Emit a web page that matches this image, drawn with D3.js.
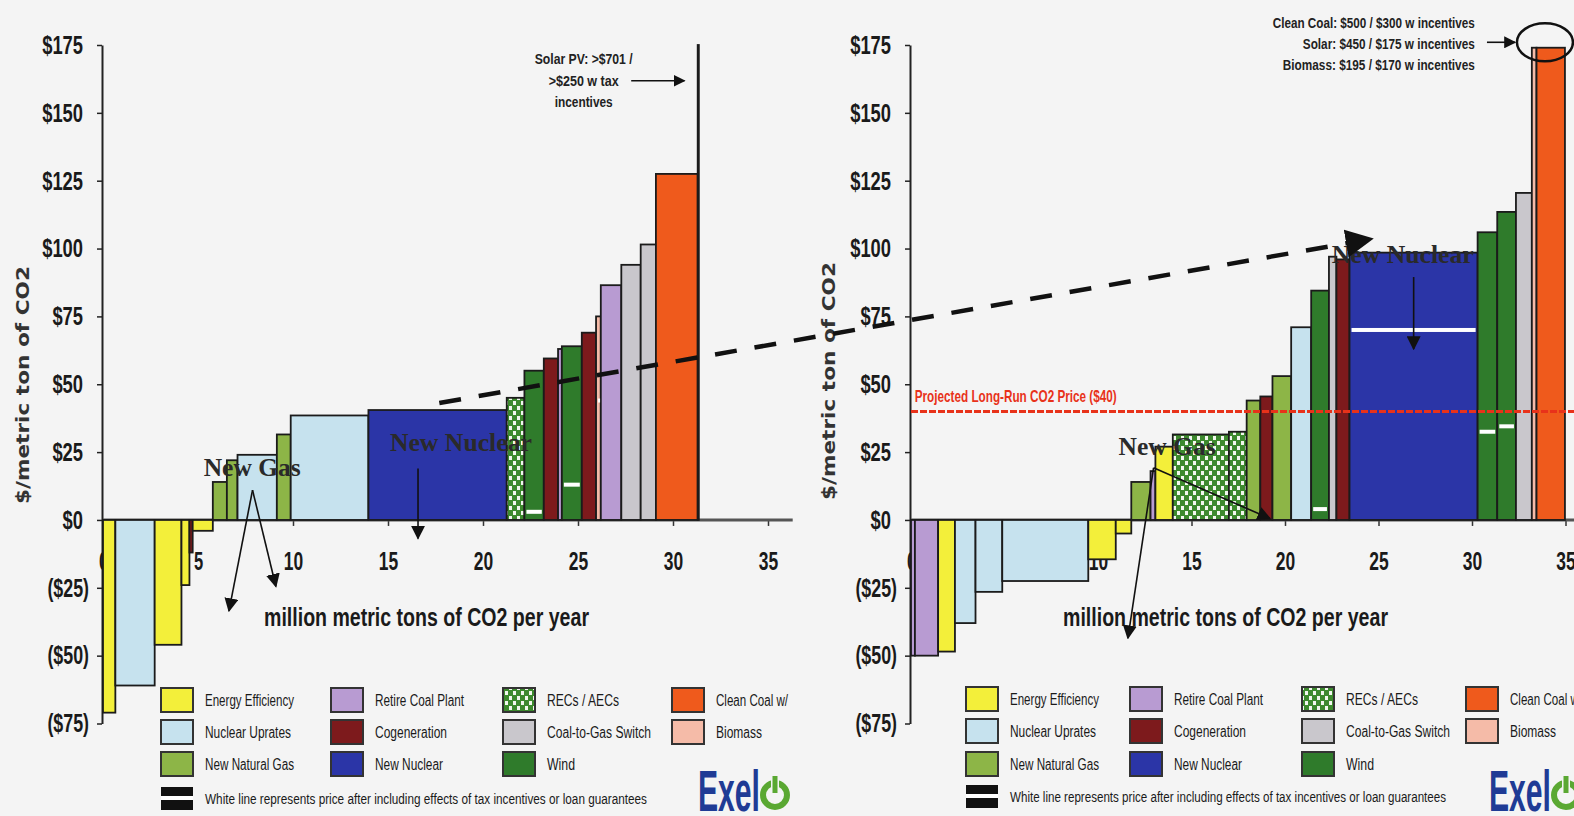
<!DOCTYPE html>
<html>
<head>
<meta charset="utf-8">
<script src="https://cdn.jsdelivr.net/npm/d3@7"></script>
<style>
  html, body { margin: 0; padding: 0; background: #f4f4f4; }
  svg { display: block; }
</style>
</head>
<body>
<svg id="chart" width="1574" height="816"></svg>
<script>
// Abatement cost curves: cost per metric ton of CO2 vs. cumulative reduction

// Technology legend
const techKeys   = ["EE", "NU", "NG", "RC", "CG", "NN", "REC", "CTG", "WI", "CC", "BIO"];
const techNames  = ["Energy Efficiency", "Nuclear Uprates", "New Natural Gas",
                    "Retire Coal Plant", "Cogeneration", "New Nuclear",
                    "RECs / AECs", "Coal-to-Gas Switch", "Wind",
                    "Clean Coal w/", "Biomass"];
const techColors = ["#f3ef3a", "#c6e2ee", "#8db547", "#b89bd2", "#7d1a1c", "#2b35a7",
                    "#3d8a2e", "#c9c7cc", "#2f7b2b", "#ef5a1c", "#f5bba8"];

// Axes
const yTicks      = [175, 150, 125, 100, 75, 50, 25, 0, -25, -50, -75];
const yTickLabels = ["$175", "$150", "$125", "$100", "$75", "$50", "$25", "$0", "($25)", "($50)", "($75)"];
const xTicks      = [0, 5, 10, 15, 20, 25, 30, 35];
const xTickLabels = ["0", "5", "10", "15", "20", "25", "30", "35"];

// Left panel: technology, width (million t CO2/yr), cost ($/t), cost after incentives
const leftTech      = ["EE", "NU", "EE", "EE", "CG", "EE", "NG", "NG", "NU", "NG", "NU", "NN",
                       "REC", "WI", "CG", "RC", "WI", "CG", "BIO", "RC", "CTG", "CTG", "CC", "PV"];
const leftWidth     = [0.65, 2.07, 1.41, 0.42, 0.17, 1.06, 0.74, 0.56, 2.07, 0.73, 4.09, 7.28,
                       0.93, 1.02, 0.75, 0.20, 1.05, 0.75, 0.25, 1.08, 1.02, 0.80, 2.20, 0.06];
const leftCost      = [-71, -61, -46, -24, -12, -4, 14, 22, 24, 31.5, 38.5, 40.5,
                       45, 55, 59.5, 63, 64, 69, 75, 86.5, 94, 101.5, 127.5, 175];
const leftIncentive = [null, null, null, null, null, null, null, null, null, null, null, null,
                       null, 3, null, null, 13, null, 44, null, null, null, null, null];

// Right panel
const rightTech      = ["RC", "RC", "EE", "NU", "NU", "NU", "EE", "EE", "NG", "RC", "EE", "REC", "REC",
                        "NG", "CG", "NG", "NU", "WI", "CTG", "CG", "NN", "WI", "WI", "CTG", "BIO", "CC"];
const rightWidth     = [0.21, 1.24, 0.90, 1.10, 1.43, 4.60, 1.47, 0.83, 1.03, 0.26, 0.93, 3.00, 0.95,
                        0.73, 0.65, 1.00, 1.07, 0.95, 0.40, 0.70, 6.85, 1.05, 1.00, 0.85, 0.25, 1.52];
const rightCost      = [-50, -50, -48.5, -38, -26.5, -22.5, -14.5, -5, 14, 18, 27, 31.5, 32.5,
                        44, 45.5, 53, 71, 84.5, 97, 96, 98.5, 106, 113.5, 120.5, 174, 174];
const rightIncentive = [null, null, null, null, null, null, null, null, null, null, null, null, null,
                        null, null, null, null, 4, null, null, 70, 32.5, 34.5, null, null, null];

// Reference price and annotations (data coordinates of each panel)
const projectedPrice = 40;
const leftCallouts  = [{ text: "New Gas", x: 5.3, y: 16.2 }, { text: "New Nuclear", x: 15.1, y: 25.4 }];
const rightCallouts = [{ text: "New Gas", x: 11.1, y: 24 }, { text: "New Nuclear", x: 22.5, y: 94.7 }];
const leftPointers  = [[7.87, 11, 6.63, -33.5], [7.87, 11, 9.1, -24.5], [16.58, 19, 16.58, -6.8]];
const rightPointers = [[12.97, 19.2, 11.6, -43.5], [12.97, 19.2, 19.2, 0.5], [26.88, 89.5, 26.88, 63]];
const linkFrom = [17.7, 43.1];   // left panel
const linkTo   = [24.6, 103.5];  // right panel
const leftNote  = ["Solar PV: >$701 /", ">$250 w tax", "incentives"];
const rightNote = ["Clean Coal: $500 / $300 w incentives",
                   "Solar: $450 / $175 w incentives",
                   "Biomass: $195 / $170 w incentives"];

const svg = d3.select("#chart");
const bg = "#f4f4f4";
svg.append("rect").attr("width", 1574).attr("height", 816).attr("fill", bg);

const defs = svg.append("defs");
const pat = defs.append("pattern").attr("id", "checker")
  .attr("patternUnits", "userSpaceOnUse").attr("width", 8).attr("height", 10);
pat.append("rect").attr("width", 8).attr("height", 10).attr("fill", "#3d8a2e");
pat.append("rect").attr("x", 1).attr("y", 1).attr("width", 3).attr("height", 4).attr("fill", "#f2f7ee");
pat.append("rect").attr("x", 5).attr("y", 6).attr("width", 3).attr("height", 4).attr("fill", "#f2f7ee");

function arrowMarker(id, size) {
  defs.append("marker").attr("id", id)
    .attr("viewBox", "0 0 10 10").attr("refX", 9).attr("refY", 5)
    .attr("markerUnits", "userSpaceOnUse")
    .attr("markerWidth", size).attr("markerHeight", size)
    .attr("orient", "auto")
    .append("path").attr("d", "M0,0 L10,5 L0,10 Z").attr("fill", "#111");
}
arrowMarker("tri", 14);
arrowMarker("open", 12);
arrowMarker("big", 28);

const colorOf = k => k === "REC" ? "url(#checker)" : (k === "PV" ? "none" : techColors[techKeys.indexOf(k)]);

const y = d3.scaleLinear().domain([-75, 175]).range([723.5, 45]);
const narrow = "'Liberation Sans Narrow','Arial Narrow','Liberation Sans',sans-serif";

// condensed width of a numeric tick label
const labelWidth = s => Array.from(s).reduce((w, c) => w + (c === "(" || c === ")" ? 5.5 : 10.2), 0);

function drawPanel(cfg) {
  const x = cfg.x;
  const g = svg.append("g");

  // y axis
  const ya = g.append("g")
    .attr("transform", `translate(${x(0) - 1},0)`)
    .call(d3.axisLeft(y).tickValues(yTicks).tickFormat((d, i) => yTickLabels[i]).tickSize(5).tickSizeOuter(0));
  ya.select(".domain").attr("stroke", "#222").attr("stroke-width", 2);
  ya.selectAll(".tick line").attr("stroke", "#222").attr("stroke-width", 1.5);
  ya.selectAll(".tick text")
    .attr("x", d => d < 0 ? -13 : -19)
    .attr("font-family", narrow).attr("font-weight", "bold").attr("font-size", 26)
    .attr("fill", "#1a1a1a")
    .attr("textLength", function () { return labelWidth(this.textContent); })
    .attr("lengthAdjust", "spacingAndGlyphs");

  // x axis
  const xa = g.append("g")
    .attr("transform", `translate(0,${y(0)})`)
    .call(d3.axisBottom(x).tickValues(xTicks).tickFormat((d, i) => xTickLabels[i]).tickSize(6).tickSizeOuter(0));
  xa.select(".domain").remove();
  xa.selectAll(".tick line").attr("stroke", "#333").attr("stroke-width", 1.5);
  xa.selectAll(".tick text")
    .attr("y", 32)
    .attr("font-family", narrow).attr("font-weight", "bold").attr("font-size", 26)
    .attr("fill", "#1a1a1a")
    .attr("textLength", function () { return labelWidth(this.textContent) - 1; })
    .attr("lengthAdjust", "spacingAndGlyphs");
  g.append("line")
    .attr("x1", x(0)).attr("x2", x(cfg.axisEnd))
    .attr("y1", y(0)).attr("y2", y(0))
    .attr("stroke", "#555").attr("stroke-width", 3);

  // axis titles
  g.append("text")
    .attr("transform", `translate(${cfg.yTitleX},${cfg.yTitleY}) rotate(-90)`)
    .attr("text-anchor", "middle")
    .attr("font-family", "'DejaVu Sans',Verdana,sans-serif").attr("font-weight", "bold")
    .attr("font-size", 17).attr("fill", "#333")
    .attr("textLength", 238).attr("lengthAdjust", "spacingAndGlyphs")
    .text("$/metric ton of CO2");
  g.append("text")
    .attr("x", cfg.xTitleX).attr("y", 626)
    .attr("font-family", narrow).attr("font-weight", "bold").attr("font-size", 25)
    .attr("fill", "#1a1a1a")
    .attr("textLength", 325).attr("lengthAdjust", "spacingAndGlyphs")
    .text("million metric tons of CO2 per year");

  // bars
  const starts = d3.cumsum([0].concat(cfg.width.slice(0, -1)));
  const bars = cfg.tech.map((t, i) => ({
    tech: t, x0: starts[i], x1: starts[i] + cfg.width[i],
    cost: cfg.cost[i], inc: cfg.incentive[i]
  }));
  g.append("g").selectAll("rect").data(bars).join("rect")
    .attr("x", d => x(d.x0))
    .attr("width", d => Math.max(1, x(d.x1) - x(d.x0)))
    .attr("y", d => Math.min(y(d.cost), y(0)))
    .attr("height", d => Math.abs(y(d.cost) - y(0)))
    .attr("fill", d => colorOf(d.tech))
    .attr("stroke", "#1b1b1b").attr("stroke-width", 1.8);

  // white incentive marks
  g.append("g").selectAll("rect").data(bars.filter(d => d.inc !== null)).join("rect")
    .attr("x", d => x(d.x0) + 2)
    .attr("width", d => Math.max(2, x(d.x1) - x(d.x0) - 4))
    .attr("y", d => y(d.inc) - 2)
    .attr("height", 4)
    .attr("fill", "#ffffff");

  return g;
}

const xL = d3.scaleLinear().domain([0, 35]).range([103, 768]);
const xR = d3.scaleLinear().domain([0, 35]).range([911, 1565.5]);

const gL = drawPanel({ x: xL, tech: leftTech, width: leftWidth, cost: leftCost, incentive: leftIncentive,
                       axisEnd: 36.3, yTitleX: 29, yTitleY: 385, xTitleX: 264 });
const gR = drawPanel({ x: xR, tech: rightTech, width: rightWidth, cost: rightCost, incentive: rightIncentive,
                       axisEnd: 35.6, yTitleX: 835, yTitleY: 381, xTitleX: 1063 });

// projected long-run CO2 price
gR.append("line")
  .attr("x1", xR(0)).attr("x2", 1574)
  .attr("y1", y(projectedPrice)).attr("y2", y(projectedPrice))
  .attr("stroke", "#e8321a").attr("stroke-width", 3).attr("stroke-dasharray", "7,2");
gR.append("text")
  .attr("x", xR(0.2)).attr("y", y(43.6))
  .attr("font-family", narrow).attr("font-weight", "bold").attr("font-size", 17)
  .attr("fill", "#e8321a")
  .attr("textLength", 202).attr("lengthAdjust", "spacingAndGlyphs")
  .text("Projected Long-Run CO2 Price ($40)");

// callouts
function callouts(g, x, labels, pointers) {
  labels.forEach(c => {
    g.append("text")
      .attr("x", x(c.x)).attr("y", y(c.y))
      .attr("font-family", "'Liberation Serif','Times New Roman',serif").attr("font-weight", "bold")
      .attr("font-size", 25).attr("fill", "#2a2a2a")
      .attr("textLength", c.text === "New Gas" ? 97 : 142).attr("lengthAdjust", "spacingAndGlyphs")
      .text(c.text);
  });
  pointers.forEach(p => {
    g.append("line")
      .attr("x1", x(p[0])).attr("y1", y(p[1]))
      .attr("x2", x(p[2])).attr("y2", y(p[3]))
      .attr("stroke", "#111").attr("stroke-width", 1.6)
      .attr("marker-end", "url(#tri)");
  });
}
callouts(gL, xL, leftCallouts, leftPointers);
callouts(gR, xR, rightCallouts, rightPointers);

// dashed link between the two New Nuclear positions
svg.append("line")
  .attr("x1", xL(linkFrom[0])).attr("y1", y(linkFrom[1]))
  .attr("x2", xR(linkTo[0])).attr("y2", y(linkTo[1]))
  .attr("stroke", "#111").attr("stroke-width", 4.5).attr("stroke-dasharray", "22,18")
  .attr("marker-end", "url(#big)");

// off-scale notes
leftNote.forEach((t, i) => {
  gL.append("text")
    .attr("x", xL(25.3)).attr("y", y(168 - i * 8))
    .attr("text-anchor", "middle")
    .attr("font-family", narrow).attr("font-weight", "bold").attr("font-size", 14)
    .attr("fill", "#222")
    .attr("textLength", [98, 70, 58][i]).attr("lengthAdjust", "spacingAndGlyphs")
    .text(t);
});
gL.append("line")
  .attr("x1", xL(27.8)).attr("x2", xL(30.6))
  .attr("y1", y(161.8)).attr("y2", y(161.8))
  .attr("stroke", "#111").attr("stroke-width", 1.6).attr("marker-end", "url(#open)");

rightNote.forEach((t, i) => {
  gR.append("text")
    .attr("x", xR(30.15)).attr("y", y(181.3 - i * 7.8))
    .attr("text-anchor", "end")
    .attr("font-family", narrow).attr("font-weight", "bold").attr("font-size", 15)
    .attr("fill", "#222")
    .attr("textLength", [202, 172, 192][i]).attr("lengthAdjust", "spacingAndGlyphs")
    .text(t);
});
gR.append("line")
  .attr("x1", xR(30.8)).attr("x2", xR(32.3))
  .attr("y1", y(176)).attr("y2", y(176))
  .attr("stroke", "#111").attr("stroke-width", 1.6).attr("marker-end", "url(#open)");
gR.append("ellipse")
  .attr("cx", xR(33.9)).attr("cy", y(176))
  .attr("rx", 28).attr("ry", 19)
  .attr("fill", "none").attr("stroke", "#111").attr("stroke-width", 2.5);

// legends
const legendLayout = [["EE", "NU", "NG"], ["RC", "CG", "NN"], ["REC", "CTG", "WI"], ["CC", "BIO"]];
const legendLen = { EE: 89, NU: 86, NG: 89, RC: 89, CG: 72, NN: 68, REC: 72, CTG: 104, WI: 28, CC: 72, BIO: 46 };
function legend(cols, rowY, noteLen, logoX) {
  const g = svg.append("g");
  legendLayout.forEach((col, ci) => {
    col.forEach((k, ri) => {
      g.append("rect")
        .attr("x", cols[ci]).attr("y", rowY[ri])
        .attr("width", 32).attr("height", 24)
        .attr("fill", colorOf(k)).attr("stroke", "#333").attr("stroke-width", 2);
      g.append("text")
        .attr("x", cols[ci] + 44).attr("y", rowY[ri] + 18)
        .attr("font-family", narrow).attr("font-size", 16).attr("fill", "#1a1a1a")
        .attr("textLength", legendLen[k]).attr("lengthAdjust", "spacingAndGlyphs")
        .text(techNames[techKeys.indexOf(k)]);
    });
  });
  g.append("rect").attr("x", cols[0]).attr("y", rowY[3]).attr("width", 32).attr("height", 23).attr("fill", "#111");
  g.append("rect").attr("x", cols[0]).attr("y", rowY[3] + 9).attr("width", 32).attr("height", 4).attr("fill", "#fff");
  g.append("text")
    .attr("x", cols[0] + 44).attr("y", rowY[3] + 17)
    .attr("font-family", narrow).attr("font-size", 14).attr("fill", "#1a1a1a")
    .attr("textLength", noteLen).attr("lengthAdjust", "spacingAndGlyphs")
    .text("White line represents price after including effects of tax incentives or loan guarantees");
  // company mark
  g.append("text")
    .attr("x", logoX).attr("y", 811)
    .attr("font-family", narrow).attr("font-weight", "bold").attr("font-size", 58)
    .attr("fill", "#1f3b95")
    .attr("textLength", 62).attr("lengthAdjust", "spacingAndGlyphs")
    .text("Exel");
  g.append("circle")
    .attr("cx", logoX + 77).attr("cy", 795).attr("r", 12)
    .attr("fill", "none").attr("stroke", "#5aa832").attr("stroke-width", 6);
  g.append("line")
    .attr("x1", logoX + 77).attr("x2", logoX + 77).attr("y1", 776).attr("y2", 793)
    .attr("stroke", bg).attr("stroke-width", 8);
  g.append("line")
    .attr("x1", logoX + 77).attr("x2", logoX + 77).attr("y1", 776).attr("y2", 793)
    .attr("stroke", "#5aa832").attr("stroke-width", 5);
}
legend([161, 331, 503, 672], [688, 720, 752, 787], 442, 698);
legend([966, 1130, 1302, 1466], [687, 719, 752, 785], 436, 1489);
</script>
</body>
</html>
